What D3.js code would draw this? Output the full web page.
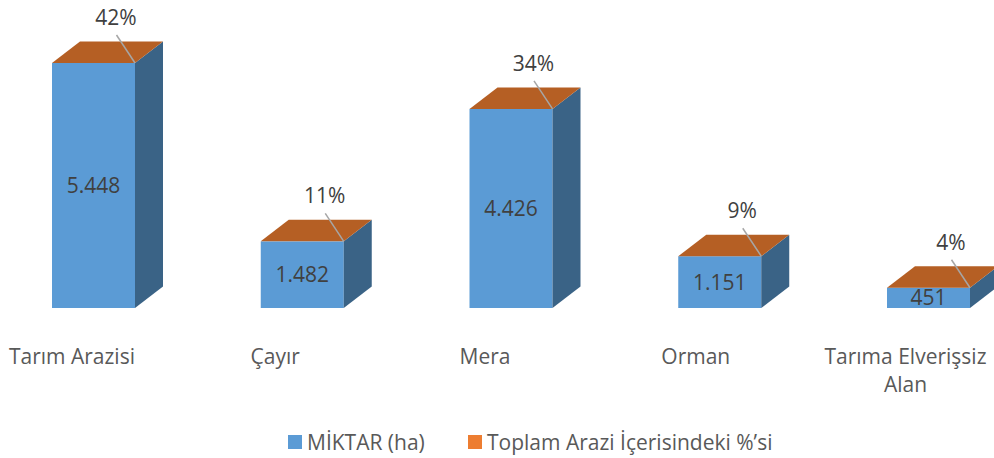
<!DOCTYPE html>
<html><head><meta charset="utf-8"><script src="https://cdn.jsdelivr.net/npm/d3@7"></script>
<style>html,body{margin:0;padding:0;background:#fff}svg{display:block;font-family:"Open Sans",sans-serif}</style></head>
<body><svg id="c" width="994" height="458"></svg>
<script>
const categories=["Tarım Arazisi","Çayır","Mera","Orman","Tarıma Elverişsiz Alan"];
const miktar=[5448,1482,4426,1151,451];
const miktarLabels=["5.448","1.482","4.426","1.151","451"];
const yuzde=[42,11,34,9,4];
const legendNames=["MİKTAR (ha)","Toplam Arazi İçerisindeki %’si"];
const legendColors=["#5b9bd5","#ed7d31"];

const svg=d3.select("#c");
const x=d3.scaleBand().domain(categories).range([52,970]).paddingInner(0.6024).paddingOuter(0);
const bw=x.bandwidth();
const y=d3.scaleLinear().domain([0,5448]).range([308,63]);
const dx=28,dy=21.5,text="#404040",lg="#595959";
const data=categories.map((c,i)=>({c,v:miktar[i],l:miktarLabels[i],p:yuzde[i]}));
const g=svg.selectAll("g.bar").data(data).join("g").attr("class","bar");
g.append("rect").attr("x",d=>x(d.c)).attr("y",d=>y(d.v)).attr("width",bw).attr("height",d=>y(0)-y(d.v)).attr("fill","#5b9bd5");
g.append("path").attr("fill","#3a6386").attr("d",d=>{const a=x(d.c)+bw;return `M${a},${y(d.v)}L${a+dx},${y(d.v)-dy}L${a+dx},${y(0)-dy}L${a},${y(0)}Z`;});
g.append("path").attr("fill","#b55f24").attr("d",d=>{const a=x(d.c),t=y(d.v);return `M${a},${t}L${a+dx},${t-dy}L${a+bw+dx},${t-dy}L${a+bw},${t}Z`;});
g.append("line").attr("stroke","#a6a6a6").attr("stroke-width",1.5)
 .attr("x1",d=>x(d.c)+bw).attr("y1",d=>y(d.v)).attr("x2",d=>x(d.c)+bw-18.5).attr("y2",d=>y(d.v)-28);
g.append("text").attr("x",d=>x(d.c)+bw-19).attr("y",d=>y(d.v)-38).attr("text-anchor","middle").attr("font-size",21).attr("fill",text).text(d=>d.p+"%");
g.append("text").attr("x",d=>x(d.c)+bw/2).attr("y",d=>(y(d.v)+y(0))/2+7.5).attr("text-anchor","middle").attr("font-size",21).attr("fill",text).text(d=>d.l);

const labelOffset=[-21.5,-27,-26,-24,-23];
const lines=[["Tarım Arazisi"],["Çayır"],["Mera"],["Orman"],["Tarıma Elverişsiz","Alan"]];
svg.append("g").selectAll("text").data(data).join("text").attr("text-anchor","middle").attr("font-size",21).attr("fill",lg)
 .each(function(d,i){const t=d3.select(this);lines[i].forEach((s,k)=>t.append("tspan").attr("x",x(d.c)+bw/2+labelOffset[i]).attr("y",364+k*28).text(s));});

const leg=svg.append("g");
const lx=[288,468];
legendNames.forEach((n,i)=>{
 leg.append("rect").attr("x",lx[i]).attr("y",435).attr("width",14).attr("height",14).attr("fill",legendColors[i]);
 leg.append("text").attr("x",lx[i]+19).attr("y",450).attr("font-size",21).attr("fill",lg).text(n);
});
</script></body></html>
